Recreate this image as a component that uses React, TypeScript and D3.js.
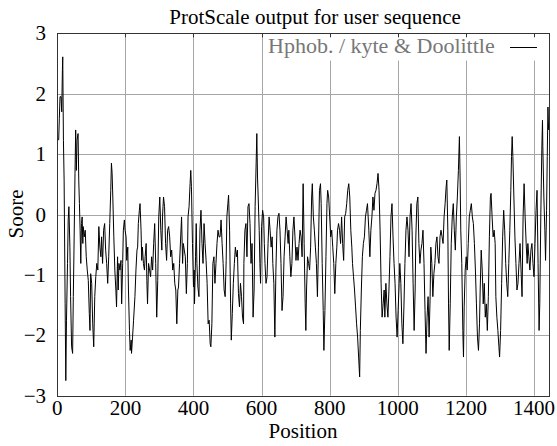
import React from 'react';
import * as d3 from 'd3';

const positions = [
4,6,8,11,13,15,16,18,20,23,25,27,30,32,34,37,39,42,45,47,49,52,54,56,58,61,63,65,67,69,71,73,75,76,79,82,85,88,91,94,96,98,101,104,107,110,113,116,119,122,125,128,130,133,136,139,142,145,148,151,154,157,159,161,163,166,169,172,174,
177,179,181,184,187,189,192,194,197,199,202,204,207,209,212,214,217,218,221,224,228,231,234,236,238,241,243,246,248,250,253,256,258,261,263,265,268,271,274,277,280,283,286,289,292,295,298,301,304,307,309,312,315,318,321,324,327,330,333,336,339,342,345,348,351,354,356,359,
365,368,370,373,376,379,382,384,387,390,392,394,397,400,402,403,406,408,410,413,416,419,422,425,428,431,434,437,440,443,446,449,451,454,457,460,463,466,469,472,475,478,481,484,487,490,493,496,498,501,503,506,509,511,514,517,520,523,526,529,532,535,538,541,544,547,
548,551,554,557,560,563,566,569,572,575,578,581,584,586,588,590,593,595,597,600,603,606,608,610,613,616,619,622,625,628,631,633,636,639,642,645,648,651,654,657,660,663,666,669,672,675,678,680,683,686,689,692,695,698,701,704,707,710,713,716,719,722,725,728,730,
732,735,738,741,744,747,749,752,755,758,761,764,767,770,773,775,778,781,783,786,789,792,794,797,800,803,806,809,812,815,818,821,823,826,829,832,835,838,841,844,847,850,853,856,859,862,865,867,870,873,876,879,882,885,888,890,893,896,899,902,905,908,911,913,915,
918,921,924,927,930,933,936,939,942,945,948,951,954,957,960,962,965,968,971,974,977,980,983,986,989,992,995,998,1001,1004,1006,1009,1012,1015,1018,1021,1024,1027,1030,1033,1036,1039,1042,1045,1048,1051,1053,1056,1059,1062,1065,1068,1071,1074,1077,1080,1083,1086,1089,1092,1095,1097,1100,
1103,1106,1109,1112,1115,1118,1121,1124,1127,1130,1133,1136,1139,1142,1144,1147,1149,1151,1154,1157,1160,1163,1166,1169,1172,1175,1178,1181,1183,1185,1188,1191,1193,1195,1198,1201,1204,1207,1210,1213,1216,1219,1222,1225,1228,1231,1234,1237,1240,1242,1245,1248,1251,1254,1257,1260,1263,1266,1269,1272,1274,1277,1280,1283,1286,
1288,1291,1294,1297,1299,1302,1305,1308,1311,1314,1317,1320,1323,1326,1329,1332,1334,1336,1338,1341,1344,1347,1350,1353,1356,1359,1362,1365,1368,1371,1374,1377,1380,1382,1385,1388,1391,1394,1397,1400,1403,1406,1409,1412,1415,1417,1420,1423,1425,1426,1429,1432,1434,1437,1439,1441,1443
];

const scores = [
1.23,1.59,1.95,1.95,1.70,2.40,2.61,1.23,0.57,-1.48,-2.75,-1.75,-0.81,-0.09,0.13,-0.54,-1.36,-2.19,-2.30,-1.36,-0.59,0.68,1.40,0.73,1.23,1.34,0.57,0.18,-0.26,-0.81,-0.15,-0.04,-0.48,-0.20,-0.37,-0.26,-0.70,-0.92,-1.09,-1.64,-1.92,-0.98,-1.14,-1.81,-2.19,-1.36,-1.03,-0.81,-0.92,-0.20,-0.54,-0.70,-0.37,-0.81,-0.26,-0.15,-0.59,-0.81,-1.14,-0.70,-0.15,0.40,0.85,0.68,0.29,-0.37,-0.92,-1.25,-1.53,
-0.70,-1.25,-0.81,-0.92,-0.76,-1.48,-0.81,-0.26,-0.09,-0.26,-0.37,-0.76,-0.54,-1.25,-1.92,-2.25,-2.08,-2.30,-2.03,-1.75,-1.36,-0.92,-0.59,-0.54,-0.15,0.07,0.18,-0.26,-0.76,-0.54,-0.81,-0.92,-0.70,-0.48,-1.09,-1.48,-0.81,-0.92,-1.03,-0.70,-0.92,-0.48,-0.15,-0.81,-1.70,-1.09,-0.04,0.29,-0.26,-0.59,-0.04,0.29,0.13,-0.48,-0.76,-0.26,-0.20,-0.37,-0.70,-0.59,-0.92,-0.81,-1.14,-1.25,-1.81,-1.25,-1.20,-0.81,
-0.04,-0.81,-0.48,-0.59,-0.70,-1.31,-0.81,-0.04,0.13,0.51,0.73,0.46,-0.48,-1.20,-0.92,-1.48,-0.70,-0.15,-0.81,-1.20,-1.36,-0.26,0.07,-0.48,-0.81,-0.15,-0.48,-0.76,-1.14,-1.81,-1.75,-2.14,-2.19,-1.81,-0.81,-0.70,-1.14,-0.81,-0.48,-0.26,-0.37,-0.37,-0.09,-0.48,-0.81,-1.25,-1.36,-0.76,-0.04,0.18,0.32,-0.26,-1.48,-2.08,-1.64,-1.14,-0.81,-0.54,-0.70,-0.59,-1.31,-1.53,-1.14,-1.36,-1.70,-1.81,
-0.81,-0.26,-0.15,-0.70,0.13,0.18,-0.15,-0.81,-0.48,-1.70,-1.25,0.13,0.85,1.34,0.62,0.29,-0.26,-0.81,-1.14,-0.20,0.07,-0.04,-0.48,-0.81,-1.14,-1.03,-0.48,-0.04,-0.26,-0.54,-0.37,-0.81,-1.14,-2.03,-0.92,-0.26,-0.04,0.02,-0.26,-0.81,-1.59,-1.36,-0.70,-0.37,-0.04,-0.26,-0.48,-0.26,-0.70,-1.03,-0.81,-0.26,-0.04,-0.37,-0.76,-0.54,-0.76,-0.48,-0.26,-0.37,-0.70,0.51,-0.48,-1.48,-1.92,
-1.25,-0.70,-0.81,-0.92,-0.54,0.29,0.51,-0.04,-0.26,-0.54,-0.81,-1.36,-0.54,0.40,0.51,0.18,-0.81,-1.59,-2.25,-1.59,-0.70,0.18,0.40,0.29,-0.04,-0.37,-0.26,-0.54,-0.81,-1.31,-0.81,-0.54,-0.26,-0.15,-0.26,-0.48,-0.04,-0.48,-0.76,-0.04,0.02,0.18,0.40,0.51,0.29,-0.26,-0.54,-0.81,-1.03,-1.25,-1.53,-1.81,-2.03,-2.36,-2.69,-1.92,-1.25,-0.70,-0.48,-0.37,-0.04,0.07,0.18,-0.04,-0.26,
-0.70,-0.26,-0.04,0.29,0.07,0.35,0.40,0.51,0.68,0.40,-0.26,-1.14,-1.70,-1.48,-1.25,-1.70,-1.14,-1.48,-1.70,-1.25,-0.70,-0.04,0.18,-0.37,-0.81,-1.14,-1.70,-2.03,-1.59,-1.14,-0.81,-1.14,-1.81,-2.14,-1.53,-0.81,-0.26,-0.04,-0.26,-0.70,-0.04,0.18,-0.26,-1.14,-1.92,-1.25,-0.37,0.18,0.29,-0.48,-0.81,-0.59,-0.48,-0.26,-0.81,-1.59,-2.30,-1.70,-1.36,-2.03,-1.36,-0.54,-0.81,
-1.36,-0.98,-0.81,-0.48,-0.37,-0.70,-0.81,-0.37,-0.26,-0.37,-0.48,-0.04,0.18,0.46,0.57,-0.26,-1.48,-2.25,-1.48,-0.48,-0.04,0.18,-0.26,-0.59,-0.04,0.29,0.73,1.29,0.62,-0.26,-0.81,-1.92,-2.36,-1.53,-0.92,-0.70,-0.92,-0.48,-0.04,0.07,0.18,-0.04,-0.15,-0.48,-0.92,-1.48,-2.03,-2.25,-1.81,-1.25,-0.59,-0.92,-1.48,-1.14,-1.70,-1.48,-1.92,-1.36,-0.37,0.29,0.35,-0.04,-0.37,-0.26,-0.48,
-1.36,-1.70,-1.92,-2.19,-2.36,-1.92,-1.14,-0.37,0.07,-0.26,-0.81,-1.14,-1.36,-0.81,-0.26,0.40,0.96,1.29,0.96,0.29,-0.37,-0.81,-1.25,-1.14,-0.81,-0.48,-0.92,-1.36,-0.04,0.51,-0.04,-0.48,-0.81,-0.48,-0.70,-0.92,-0.59,-0.48,-0.81,-1.03,-0.48,0.07,0.40,-0.81,-1.92,-1.48,-0.04,1.07,1.56,1.12,0.29,-0.26,-0.76,0.07,0.96,1.78,1.40
];

const xTicks = [0, 200, 400, 600, 800, 1000, 1200, 1400];
const yTicks = [-3, -2, -1, 0, 1, 2, 3];
const titleText = 'ProtScale output for user sequence';
const legendText = 'Hphob. / kyte & Doolittle';
const xLabel = 'Position';
const yLabel = 'Soore';

export default function App() {
  const W = 557, H = 446;
  const left = 57.3, right = 549.3, top = 33.3, bottom = 395.7;
  const x = d3.scaleLinear().domain([0, 1445]).range([left, right]);
  const y = d3.scaleLinear().domain([-3, 3]).range([bottom, top]);
  const crisp = (v: number) => Math.round(v) + 0.5;
  const pts = positions.map((p, i) => [p, scores[i]] as [number, number]);
  const line = d3.line<[number, number]>().x(d => x(d[0])).y(d => y(d[1]));
  const font = '"Liberation Serif", "Times New Roman", serif';
  const fmt = (v: number) => (v < 0 ? '\u2212' + Math.abs(v) : String(v));
  return (
    <svg width={W} height={H} style={{ position: 'absolute', left: 0, top: 0, background: '#fff' }}
      fontFamily={font}>
      <rect x={0} y={0} width={W} height={H} fill="#fff" />
      {xTicks.map(t => (
        <line key={'gx' + t} x1={crisp(x(t))} x2={crisp(x(t))} y1={top} y2={bottom} stroke="#a6a6a6" strokeWidth={1} />
      ))}
      {yTicks.map(t => (
        <line key={'gy' + t} x1={left} x2={right} y1={crisp(y(t))} y2={crisp(y(t))} stroke="#a6a6a6" strokeWidth={1} />
      ))}
      <rect x={265} y={crisp(top) + 1} width={crisp(right) - 266} height={26} fill="#fff" />
      <path d={line(pts) || ''} fill="none" stroke="#000" strokeWidth={1} />
      {xTicks.map(t => (
        <line key={'tt' + t} x1={crisp(x(t))} x2={crisp(x(t))} y1={top} y2={top + 4} stroke="#333" strokeWidth={1} />
      ))}
      <rect x={crisp(left)} y={crisp(top)} width={crisp(right) - crisp(left)} height={crisp(bottom) - crisp(top)}
        fill="none" stroke="#333" strokeWidth={1} />
      {yTicks.map(t => (
        <text key={'yl' + t} x={46} y={y(t) + 7} textAnchor="end" fontSize={21} fill="#000">{fmt(t)}</text>
      ))}
      {xTicks.map(t => (
        <text key={'xl' + t} x={x(t)} y={415} textAnchor="middle" fontSize={21} fill="#000">{fmt(t)}</text>
      ))}
      <text x={315} y={24} textAnchor="middle" fontSize={21} fill="#000">{titleText}</text>
      <text x={303} y={438} textAnchor="middle" fontSize={21} fill="#000">{xLabel}</text>
      <text transform="translate(23,214) rotate(-90)" textAnchor="middle" fontSize={21} fill="#000">{yLabel}</text>
      <text x={268} y={53} fontSize={22} fill="#777">{legendText}</text>
      <line x1={510} x2={537} y1={47.5} y2={47.5} stroke="#000" strokeWidth={1} />
    </svg>
  );
}
